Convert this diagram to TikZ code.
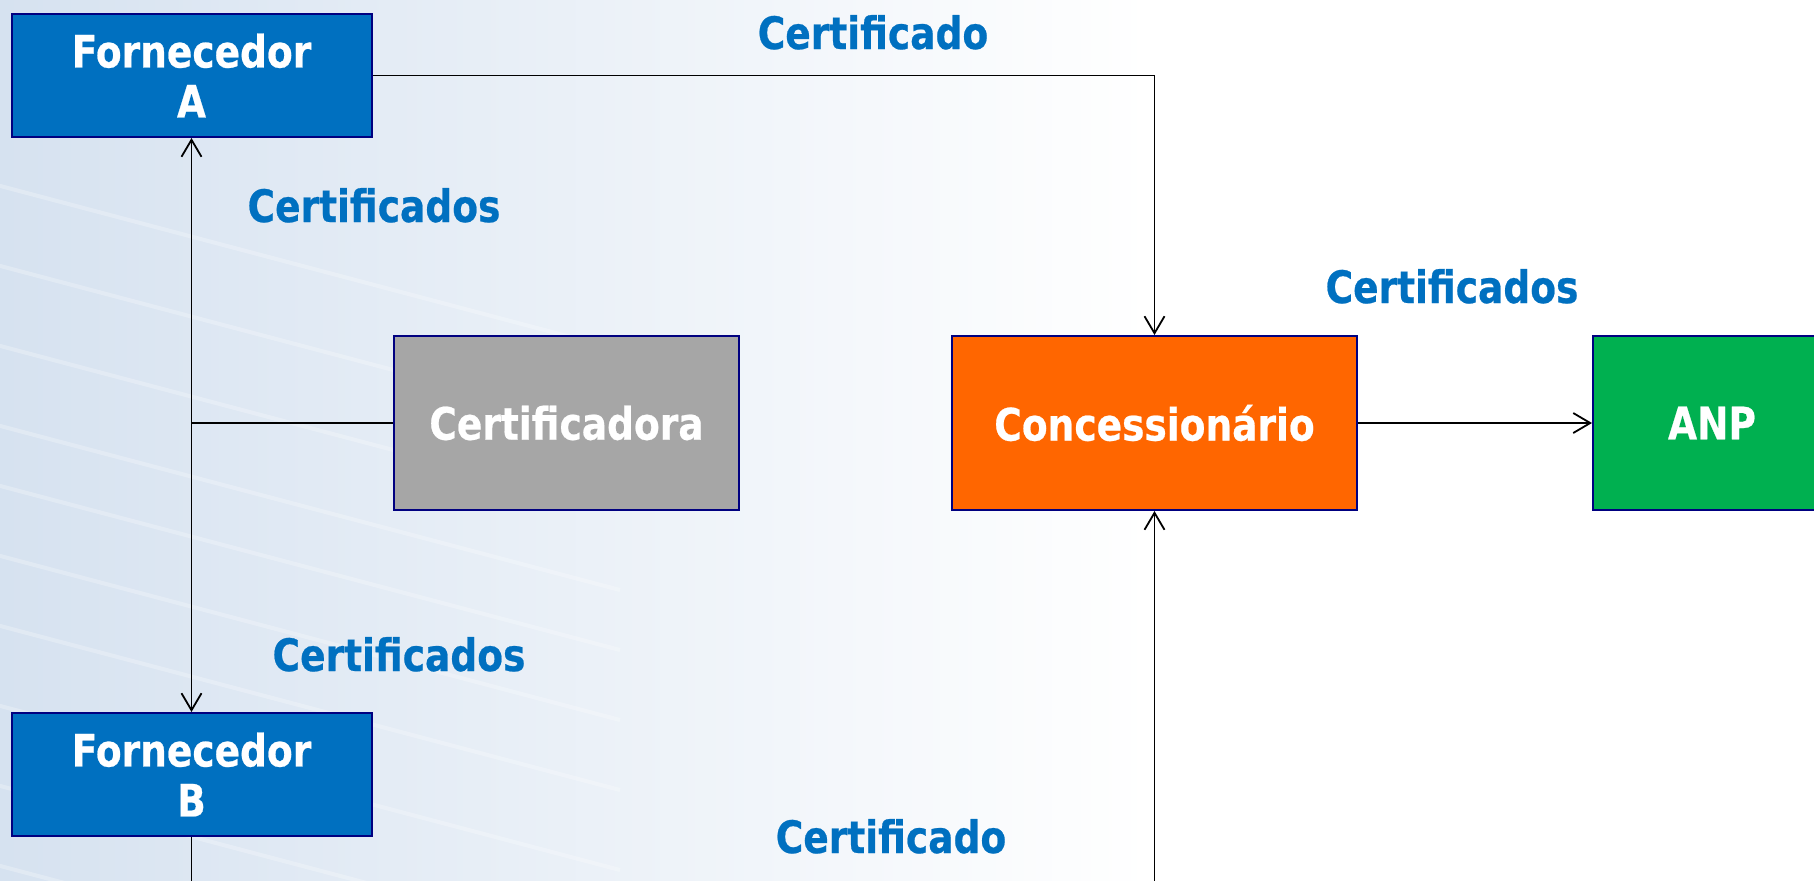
\documentclass[tikz,border=0pt]{standalone}
\usepackage{fontspec}
\setmainfont{DejaVu Sans}[FakeStretch=0.84,BoldFeatures={FakeBold=0.5}]
\usepackage{tikz}
\usetikzlibrary{arrows.meta, positioning, calc}

\definecolor{boxblue}{HTML}{0070C0}
\definecolor{boxline}{HTML}{000080}
\definecolor{certgray}{HTML}{A6A6A6}
\definecolor{concorange}{HTML}{FF6600}
\definecolor{anpgreen}{HTML}{00B050}
\definecolor{bgblue}{RGB}{214,226,240}
\newcommand\boxfont{\fontsize{22.35}{25}\selectfont\bfseries}

\begin{document}
\begin{tikzpicture}[x=0.5pt,y=-0.5pt,>={Straight Barb[length=8.5pt,width=10pt]},
                    box node/.style={rectangle,draw=boxline,line width=1pt,text=white,font=\boxfont,align=center,
                                     minimum width=180pt,minimum height=61.5pt,inner sep=0pt},
                    tag node/.style={text=boxblue,font=\boxfont,anchor=base,inner sep=0pt},
                    link/.style={draw=black,line width=0.9pt}]
        \useasboundingbox (0,0) rectangle (1814,880);
        \clip (0,0) rectangle (1814,880);
        % background
        \shade[left color=bgblue,right color=white] (0,0) rectangle (1150,880);
        \fill[white] (1150,0) rectangle (1814,880);
        \foreach \y in {170,250,330,410,470,540,610,690,770,850}
                \draw[white,opacity=0.25,line width=2pt] (-60,\y) -- (620,\y+180);

        \node[box node,fill=boxblue] (fa) at (191.5,75.5) {Fornecedor\\A};
        \node[box node,fill=boxblue] (fb) [below=287pt of fa] {Fornecedor\\B};
        \node[box node,fill=certgray,minimum width=172.5pt,minimum height=87pt] (cert) at (566.5,423) {Certificadora};
        \node[box node,fill=concorange,minimum width=202.5pt,minimum height=87pt] (conc) [right=105.5pt of cert] {Concessionário};
        \node[box node,fill=anpgreen,minimum height=87pt,text width=150pt,align=left,inner xsep=37.5pt] (anp) [right=117pt of conc] {ANP};

        \node[tag node] (tfa) at (873,49) {Certificado};
        \node[tag node] (tcert) at (374,222) {Certificados};
        \node[tag node] (tanp) at (1452,303) {Certificados};
        \node[tag node] (tfb) at (399,671) {Certificados};
        \node[tag node] (tconc) at (891,853) {Certificado};

        \coordinate (split) at (fa |- cert);
        \coordinate[below=80pt of fb] (fb end);
        \coordinate[below=250pt of conc] (conc end);

        \draw[link,->] (fa) -| (conc);
        \draw[link,->] (cert) -| (fa);
        \draw[link,->] (split) -- (fb);
        \draw[link] (fb) -- (fb end);
        \draw[link,->] (conc end) -- (conc);
        \draw[link,->] (conc) -- (anp);
\end{tikzpicture}
\end{document}
